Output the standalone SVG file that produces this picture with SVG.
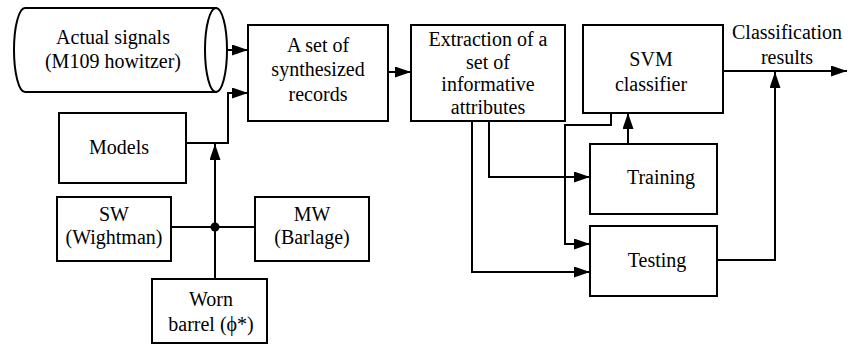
<svg xmlns="http://www.w3.org/2000/svg" width="853" height="345" viewBox="0 0 853 345" font-family="Liberation Serif, Times New Roman, DejaVu Serif, serif" font-size="20">
  <style>
    .box { fill: #ffffff; stroke: #000000; stroke-width: 2; }
    .wire { fill: none; stroke: #000000; stroke-width: 2; }
    .arrow { marker-end: url(#head); }
    text { fill: #000000; text-anchor: middle; }
  </style>
  <defs>
    <marker id="head" markerUnits="userSpaceOnUse" markerWidth="16" markerHeight="12" refX="16" refY="5.5" orient="auto">
      <path d="M0,0 L16,5.5 L0,11 z" fill="#000000"/>
    </marker>
  </defs>

  <rect width="853" height="345" fill="#ffffff"/>

  <!-- data source drum -->
  <g id="actual-signals">
    <path class="box" d="M25,8 H216 V92 H25 A11,42 0 0 1 25,8 Z"/>
    <ellipse class="box" cx="216" cy="50" rx="11" ry="42"/>
    <text x="113" y="44">Actual signals</text>
    <text x="113" y="68">(M109 howitzer)</text>
  </g>

  <g id="synthesized">
    <rect class="box" x="248" y="25" width="140" height="96"/>
    <text x="318" y="52">A set of</text>
    <text x="318" y="76">synthesized</text>
    <text x="318" y="101">records</text>
  </g>

  <g id="extraction">
    <rect class="box" x="411" y="25" width="154" height="96"/>
    <text x="488" y="46">Extraction of a</text>
    <text x="488" y="69">set of</text>
    <text x="488" y="91">informative</text>
    <text x="488" y="114">attributes</text>
  </g>

  <g id="svm">
    <rect class="box" x="583" y="25" width="140" height="88"/>
    <text x="651" y="66">SVM</text>
    <text x="651" y="91">classifier</text>
  </g>

  <g id="output-label">
    <text x="787" y="39">Classification</text>
    <text x="787" y="64">results</text>
  </g>

  <g id="training">
    <rect class="box" x="590" y="144" width="127" height="70"/>
    <text x="661" y="184">Training</text>
  </g>

  <g id="testing">
    <rect class="box" x="590" y="226" width="127" height="70"/>
    <text x="657" y="267">Testing</text>
  </g>

  <g id="models">
    <rect class="box" x="59" y="113" width="127" height="70"/>
    <text x="119" y="154">Models</text>
  </g>

  <g id="sw">
    <rect class="box" x="57" y="197" width="114" height="64"/>
    <text x="114" y="221">SW</text>
    <text x="114" y="244">(Wightman)</text>
  </g>

  <g id="mw">
    <rect class="box" x="255" y="197" width="114" height="64"/>
    <text x="312" y="221">MW</text>
    <text x="312" y="244">(Barlage)</text>
  </g>

  <g id="worn-barrel">
    <rect class="box" x="152" y="279" width="115" height="64"/>
    <text x="211" y="306">Worn</text>
    <text x="211" y="331">barrel (ϕ*)</text>
  </g>

  <g id="connectors">
    <path class="wire arrow" d="M227,50 H248"/>
    <path class="wire arrow" d="M186,143 H228 V93 H248"/>
    <path class="wire arrow" d="M215,279 V144"/>
    <path class="wire" d="M171,227 H255"/>
    <circle cx="215" cy="227" r="4.5" fill="#000000"/>
    <path class="wire arrow" d="M388,72 H411"/>
    <path class="wire arrow" d="M489,121 V177 H590"/>
    <path class="wire arrow" d="M472,121 V272 H590"/>
    <path class="wire arrow" d="M611,113 V125 H565 V244 H590"/>
    <path class="wire arrow" d="M628,144 V113"/>
    <path class="wire arrow" d="M723,71 H847"/>
    <path class="wire arrow" d="M717,260 H775 V72"/>
  </g>
</svg>
